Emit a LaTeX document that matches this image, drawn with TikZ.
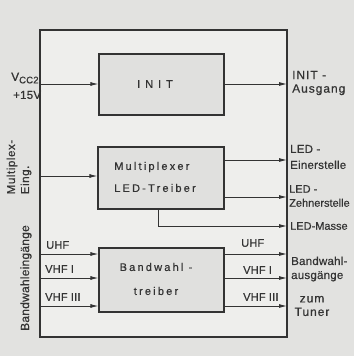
\documentclass[tikz,border=0pt]{standalone}
\usepackage{fontspec}
\setmainfont[FakeBold=0.5]{Liberation Sans}
\newfontfamily\fLbl[LetterSpace=8,FakeBold=0.5]{Liberation Sans}
\newfontfamily\fTight[LetterSpace=2,FakeBold=0.5]{Liberation Sans}
\newfontfamily\fMid[LetterSpace=5,FakeBold=0.5]{Liberation Sans}
\newfontfamily\fWide[LetterSpace=20,FakeBold=0.5]{Liberation Sans}
\newfontfamily\fXwide[LetterSpace=45,FakeBold=0.5]{Liberation Sans}
\usetikzlibrary{arrows.meta}
\definecolor{bg}{HTML}{E2E2E0}
\definecolor{inner}{HTML}{EEEEEC}
\definecolor{blk}{HTML}{E0E0DE}
\definecolor{ink}{HTML}{333333}
\tikzset{
  blockbox/.style={draw=ink, line width=1.2pt, fill=blk, inner sep=0pt},
  framebox/.style={draw=ink, line width=1.2pt, fill=inner, inner sep=0pt},
  sig/.style={draw=ink, line width=0.9pt, -{Latex[length=8pt,width=4pt]}},
  lab/.style={text=ink, font=\fLbl\fontsize{12}{13.5}\selectfont, inner sep=0pt, align=left},
  blab/.style={text=ink, font=\fWide\fontsize{11}{24}\selectfont, inner sep=0pt, align=center}
}
\begin{document}
\begin{tikzpicture}[x=1pt,y=-1pt]
\fill[bg] (0,0) rectangle (354,356);
\useasboundingbox (0,0) rectangle (354,356);
% frame and blocks
\node[framebox, minimum width=247pt, minimum height=307pt] (frame) at (163.5,183.5) {};
\node[blockbox, minimum width=125pt, minimum height=61pt] (init) at (161.5,84.5) {};
\node[blockbox, minimum width=126pt, minimum height=62pt] (mux) at (161,178) {};
\node[blockbox, minimum width=125pt, minimum height=64pt] (band) at (161.5,280) {};
% block texts
\node[blab, font=\fXwide\fontsize{11}{22}\selectfont] (tinit) at (155,84) {INIT};
\node[blab, align=left, font=\fWide\fontsize{11}{22}\selectfont] (tmux) at (155,177) {Multiplexer\\LED-Treiber};
\node[blab] (tband) at (156,279) {Bandwahl -\\treiber};
% coordinates on frame
\coordinate (fin1) at (40,84);
\coordinate (fout1) at (287,84);
\coordinate (fin2) at (40,176);
\coordinate (fout2) at (287,160);
\coordinate (fout3) at (287,197);
\coordinate (mbot) at (158,209);
\coordinate (mcorner) at (158,226);
\coordinate (fout4) at (287,226);
\coordinate (fin5) at (40,254);
\coordinate (fin6) at (40,278);
\coordinate (fin7) at (40,306);
\coordinate (bo5) at (224,254);
\coordinate (bo6) at (224,278);
\coordinate (bo7) at (224,306);
\coordinate (fout5) at (287,254);
\coordinate (fout6) at (287,278);
\coordinate (fout7) at (287,306);
% connectors
\draw[sig] (fin1) -- (init.west |- fin1);
\draw[sig] (init.east |- fout1) -- (fout1);
\draw[sig] (fin2) -- (mux.west |- fin2);
\draw[sig] (mux.east |- fout2) -- (fout2);
\draw[sig] (mux.east |- fout3) -- (fout3);
\draw[sig] (mbot) -- (mcorner) -- (fout4);
\draw[sig] (fin5) -- (band.west |- fin5);
\draw[sig] (fin6) -- (band.west |- fin6);
\draw[sig] (fin7) -- (band.west |- fin7);
\draw[sig] (bo5) -- (fout5);
\draw[sig] (bo6) -- (fout6);
\draw[sig] (bo7) -- (fout7);
% left labels
\node[lab, anchor=west, font=\fTight\fontsize{12}{14}\selectfont] (vcc) at (11,78) {V\raisebox{-2.5pt}{\fontsize{9.5}{9}\selectfont CC2}};
\node[lab, anchor=west, font=\fTight\fontsize{11.5}{14}\selectfont] (v15) at (13,95) {+15V};
\node[lab, rotate=90, font=\fMid\fontsize{11.5}{14}\selectfont] (muxin) at (19,167) {Multiplex-\\Eing.};
\node[lab, rotate=90, font=\fTight\fontsize{12}{14}\selectfont] (bandin) at (26,278) {Bandwahleingänge};
\node[lab, anchor=west, font=\fTight\fontsize{11}{14}\selectfont] (iuhf) at (46,245) {UHF};
\node[lab, anchor=west, font=\fTight\fontsize{11}{14}\selectfont] (ivhf1) at (45,269) {VHF I};
\node[lab, anchor=west, font=\fTight\fontsize{11}{14}\selectfont] (ivhf3) at (45,297) {VHF III};
% right inner labels
\node[lab, anchor=west, font=\fTight\fontsize{11}{14}\selectfont] (ouhf) at (241,243) {UHF};
\node[lab, anchor=west, font=\fTight\fontsize{11}{14}\selectfont] (ovhf1) at (243,270) {VHF I};
\node[lab, anchor=west, font=\fTight\fontsize{11}{14}\selectfont] (ovhf3) at (243,297) {VHF III};
% right outer labels
\node[lab, anchor=west] (linit) at (292,83) {INIT -\\Ausgang};
\node[lab, anchor=west, font=\fTight\fontsize{11.5}{16}\selectfont] (lein) at (290,157) {LED -\\Einerstelle};
\node[lab, anchor=west, font=\fontsize{11}{14}\selectfont] (lzehn) at (289,196) {LED -\\Zehnerstelle};
\node[lab, anchor=west, font=\fontsize{11}{14}\selectfont] (lmasse) at (290,226) {LED-Masse};
\node[lab, anchor=west, font=\fTight\fontsize{11.5}{14}\selectfont] (lbout) at (291,269) {Bandwahl-\\ausgänge};
\node[lab, align=center] (ltuner) at (312,306) {zum\\Tuner};
\end{tikzpicture}
\end{document}
